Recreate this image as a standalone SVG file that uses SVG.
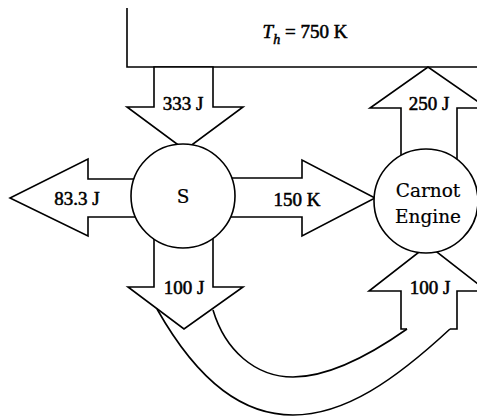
<svg xmlns="http://www.w3.org/2000/svg" width="477" height="417" viewBox="0 0 477 417">
<style>
.s{fill:#fff;stroke:#000;stroke-width:1.6;stroke-linejoin:miter}
.l{fill:none;stroke:#000;stroke-width:1.6}
text{font-family:"Liberation Serif",serif;font-size:19px;fill:#000;stroke:#000;stroke-width:0.55;text-anchor:middle}
text.n{font-family:"DejaVu Serif",serif;font-size:18.5px;stroke-width:0.2}
</style>
<rect width="477" height="417" fill="#fff"/>
<g id="reservoir">
<path class="l" d="M127,8 V67 H477"/>
<text x="305" y="38"><tspan font-style="italic">T</tspan><tspan font-style="italic" font-size="14" dy="6">h</tspan><tspan dy="-6"> = 750 K</tspan></text>
</g>
<g id="connectors">
<g id="a333"><polygon class="s" points="154,67 213,67 213,107 243,107 185,150 127,107 154,107"/><text x="183" y="110">333 J</text></g>
<g id="a833"><polygon class="s" points="140,179 88,179 88,159 10,198 88,236 88,217 140,217"/><text x="77" y="205">83.3 J</text></g>
<g id="a150"><polygon class="s" points="225,178 302,178 302,160 375,198 302,236 302,217 225,217"/><text x="297" y="206">150 K</text></g>
<g id="a250"><polygon class="s" points="401,165 401,108 370,108 428,67 487,108 457,108 457,165"/><text x="429" y="110">250 J</text></g>
<g id="a100d"><polygon class="s" points="154,230 213,230 213,287 243,287 184,329 128,287 154,287"/><text x="184" y="294">100 J</text></g>
<g id="a100u"><path class="s" d="M407,329 H401 V291 H369 L428,245 L487,291 H457 V329 H450"/><text x="430" y="294">100 J</text></g>
<path class="l" d="M157,309 C200,385 245,415 293,415 C345,415 395,380 450,329"/>
<path class="l" d="M213,310 C225,350 255,377 293,377 C330,377 370,355 407,329"/>
</g>
<g id="S"><circle class="s" cx="183" cy="196" r="52"/><text class="n" x="183" y="203">S</text></g>
<g id="engine"><circle class="s" cx="426" cy="201" r="52"/><text class="n" x="428" y="197">Carnot</text><text class="n" x="428" y="223">Engine</text></g>
</svg>
